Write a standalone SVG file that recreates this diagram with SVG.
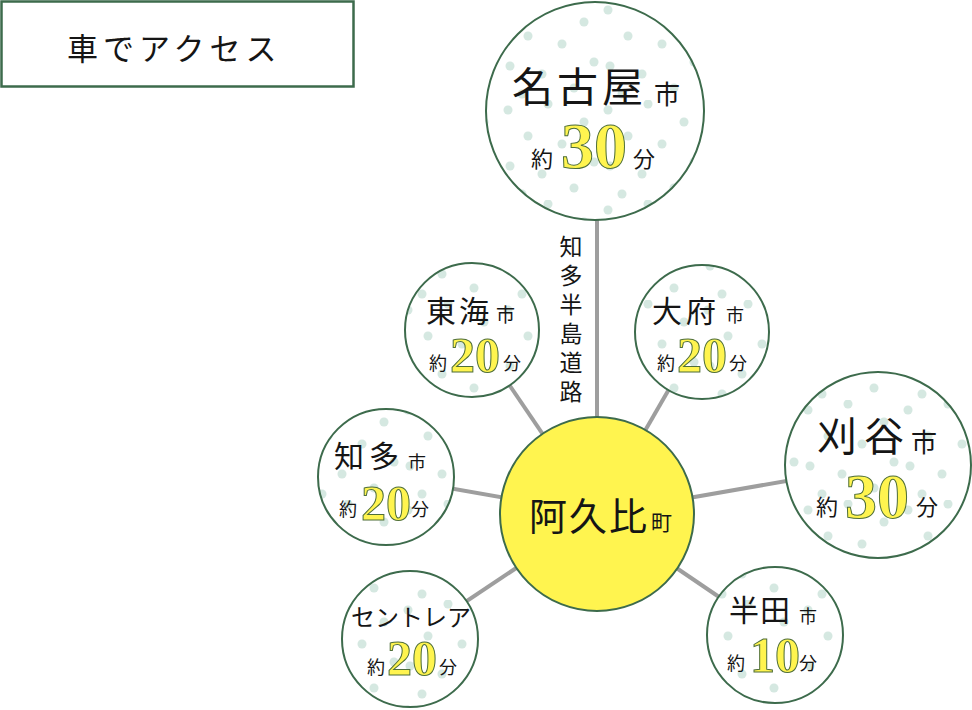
<svg xmlns="http://www.w3.org/2000/svg" width="972" height="710" viewBox="0 0 972 710">
<defs>
<pattern id="dots" patternUnits="userSpaceOnUse" width="100" height="100">
<rect width="100" height="100" fill="#ffffff"/>
<g fill="#d5e8e1">
<circle cx="8" cy="10" r="4.5"/>
<circle cx="48" cy="4" r="4.5"/>
<circle cx="84" cy="22" r="4.5"/>
<circle cx="28" cy="36" r="4.5"/>
<circle cx="62" cy="44" r="4.5"/>
<circle cx="94" cy="62" r="4.5"/>
<circle cx="10" cy="66" r="4.5"/>
<circle cx="42" cy="74" r="4.5"/>
<circle cx="74" cy="88" r="4.5"/>
<circle cx="22" cy="94" r="4.5"/>
</g>
</pattern>
<style>
.sat{fill:url(#dots);stroke:#3d6b4c;stroke-width:2}
.jp{font-family:"Noto Sans CJK JP","Noto Sans CJK SC",sans-serif;fill:#151515}
.num{font-family:"Liberation Serif","Times New Roman",serif;font-weight:bold;fill:#fff44f;stroke:#4e6e3a;stroke-width:1}
.conn line{stroke:#9e9e9e;stroke-width:4}
</style>
</defs>
<rect width="972" height="710" fill="#ffffff"/>

<g id="title">
<rect x="1.5" y="1.5" width="352" height="85" fill="#ffffff" stroke="#3d6b4c" stroke-width="2.5"/>
<text class="jp" x="67" y="60" font-size="31" letter-spacing="5">車でアクセス</text>
</g>

<g id="connectors" class="conn">
<line x1="597" y1="111" x2="597" y2="514"/>
<line x1="597" y1="514" x2="472" y2="330"/>
<line x1="597" y1="514" x2="702" y2="332"/>
<line x1="597" y1="514" x2="386" y2="477"/>
<line x1="597" y1="514" x2="878" y2="465"/>
<line x1="597" y1="514" x2="410" y2="639"/>
<line x1="597" y1="514" x2="775" y2="635"/>
</g>

<g id="road-label">
<text class="jp" x="571" y="235" font-size="23" letter-spacing="6" style="writing-mode:vertical-rl">知多半島道路</text>
</g>

<g id="nagoya">
<circle class="sat" cx="595" cy="111" r="109"/>
<text class="jp" x="512" y="102" font-size="41" letter-spacing="4">名古屋</text>
<text class="jp" x="654" y="104" font-size="26">市</text>
<text class="jp" x="531" y="167" font-size="22">約</text>
<text class="num" x="561" y="168" font-size="66">30</text>
<text class="jp" x="633" y="167" font-size="22">分</text>
</g>

<g id="tokai">
<circle class="sat" cx="472" cy="330" r="67"/>
<text class="jp" x="426" y="322" font-size="30" letter-spacing="3">東海</text>
<text class="jp" x="496" y="322" font-size="19">市</text>
<text class="jp" x="429" y="370" font-size="18">約</text>
<text class="num" x="450" y="372" font-size="50">20</text>
<text class="jp" x="503" y="370" font-size="18">分</text>
</g>

<g id="obu">
<circle class="sat" cx="702" cy="332" r="67"/>
<text class="jp" x="652" y="322" font-size="30" letter-spacing="4">大府</text>
<text class="jp" x="726" y="322" font-size="18">市</text>
<text class="jp" x="657" y="370" font-size="18">約</text>
<text class="num" x="677" y="372" font-size="50">20</text>
<text class="jp" x="729" y="370" font-size="18">分</text>
</g>

<g id="chita">
<circle class="sat" cx="386" cy="477" r="68"/>
<text class="jp" x="334" y="467" font-size="30" letter-spacing="5">知多</text>
<text class="jp" x="408" y="469" font-size="18">市</text>
<text class="jp" x="339" y="516" font-size="18">約</text>
<text class="num" x="361" y="520" font-size="50">20</text>
<text class="jp" x="411" y="516" font-size="18">分</text>
</g>

<g id="kariya">
<circle class="sat" cx="878" cy="465" r="93"/>
<text class="jp" x="817" y="451" font-size="40" letter-spacing="7">刈谷</text>
<text class="jp" x="911" y="452" font-size="26">市</text>
<text class="jp" x="816" y="515" font-size="22">約</text>
<text class="num" x="845" y="518" font-size="64">30</text>
<text class="jp" x="916" y="515" font-size="22">分</text>
</g>

<g id="centrair">
<circle class="sat" cx="410" cy="639" r="68"/>
<text class="jp" x="351" y="626" font-size="24">セントレア</text>
<text class="jp" x="367" y="674" font-size="18">約</text>
<text class="num" x="387" y="675" font-size="50">20</text>
<text class="jp" x="439" y="674" font-size="18">分</text>
</g>

<g id="handa">
<circle class="sat" cx="775" cy="635" r="68"/>
<text class="jp" x="729" y="621" font-size="30" letter-spacing="1">半田</text>
<text class="jp" x="799" y="623" font-size="18">市</text>
<text class="jp" x="727" y="670" font-size="18">約</text>
<text class="num" x="750" y="672" font-size="50">10</text>
<text class="jp" x="799" y="670" font-size="18">分</text>
</g>

<g id="agui">
<circle cx="597" cy="514" r="97" fill="#fff44f" stroke="#3d6b4c" stroke-width="2"/>
<text class="jp" x="529" y="530" font-size="38" letter-spacing="2">阿久比</text>
<text class="jp" x="651" y="530" font-size="21">町</text>
</g>
</svg>
